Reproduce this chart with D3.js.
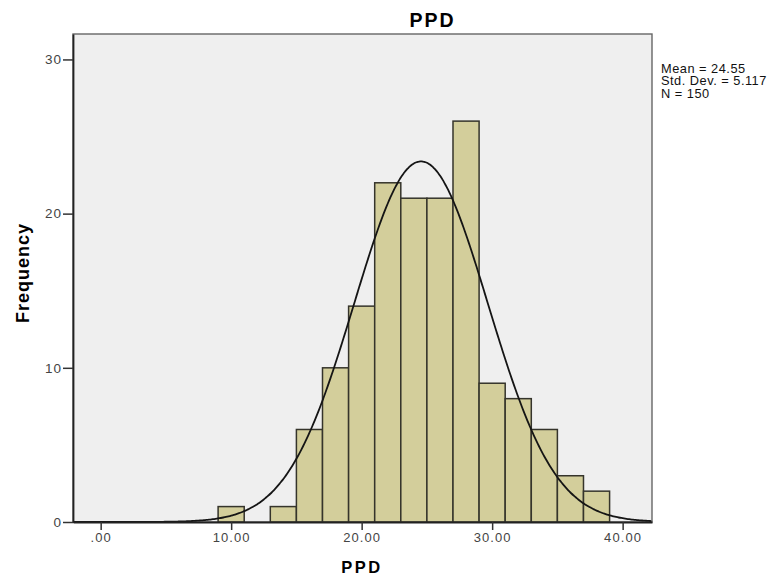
<!DOCTYPE html>
<html>
<head>
<meta charset="utf-8">
<script src="https://cdn.jsdelivr.net/npm/d3@7"></script>
<style>
  body { margin: 0; background: #fff; }
  text { font-family: Arial, "Liberation Sans", sans-serif; }
</style>
</head>
<body>
<svg width="779" height="577"></svg>
<script>
// histogram bins (lower edge, width 2) and counts
var binStart = [9, 11, 13, 15, 17, 19, 21, 23, 25, 27, 29, 31, 33, 35, 37];
var counts   = [1, 0, 1, 6, 10, 14, 22, 21, 21, 26, 9, 8, 6, 3, 2];
var binWidth = 2;
var xTicks = [0, 10, 20, 30, 40];
var yTicks = [0, 10, 20, 30];
var stats = ["Mean = 24.55", "Std. Dev. = 5.117", "N = 150"];
var mean = 24.55, sd = 5.117, n = 150;

var svg = d3.select("svg");
// plot frame edges (window.top is reserved, so use own names)
var pLeft = 73, pRight = 652, pTop = 34, pBottom = 522;

var x = d3.scaleLinear().domain([-2.12, 42.25]).range([pLeft, pRight]);
var y = d3.scaleLinear().domain([0, 31.65]).range([pBottom, pTop]);

// plot background
svg.append("rect")
    .attr("x", pLeft).attr("y", pTop)
    .attr("width", pRight - pLeft).attr("height", pBottom - pTop)
    .attr("fill", "#efefef")
    .attr("stroke", "#666")
    .attr("stroke-width", 1.4);

// bars
svg.append("g")
  .selectAll("rect")
  .data(binStart.map(function(d, i) { return {x0: d, c: counts[i]}; }).filter(function(d) { return d.c > 0; }))
  .enter().append("rect")
    .attr("x", function(d) { return x(d.x0); })
    .attr("y", function(d) { return y(d.c); })
    .attr("width", function(d) { return x(d.x0 + binWidth) - x(d.x0); })
    .attr("height", function(d) { return y(0) - y(d.c); })
    .attr("fill", "#d3ce9b")
    .attr("stroke", "#35342b")
    .attr("stroke-width", 1.5);

// normal curve scaled to counts
var xs = d3.range(-2.1, 42.26, 0.1);
var norm = function(v) {
  return n * binWidth / (sd * Math.sqrt(2 * Math.PI)) * Math.exp(-0.5 * Math.pow((v - mean) / sd, 2));
};
svg.append("path")
    .datum(xs)
    .attr("fill", "none")
    .attr("stroke", "#151515")
    .attr("stroke-width", 1.8)
    .attr("d", d3.line().x(function(d) { return x(d); }).y(function(d) { return y(norm(d)); }).curve(d3.curveBasis));

// axes
var xAxis = svg.append("g")
    .attr("transform", "translate(0," + pBottom + ")")
    .call(d3.axisBottom(x).tickValues(xTicks).tickSize(8).tickSizeOuter(0)
      .tickFormat(function(d) { return d === 0 ? ".00" : d3.format(".2f")(d); }));
xAxis.select(".domain").attr("stroke", "#222").attr("stroke-width", 1.8);
xAxis.selectAll(".tick line").attr("stroke", "#333").attr("stroke-width", 1.5);
xAxis.selectAll(".tick text").attr("fill", "#444").attr("font-size", 13)
    .attr("letter-spacing", 1.1).attr("y", 11).attr("dy", "0.71em");

var yAxis = svg.append("g")
    .attr("transform", "translate(" + pLeft + ",0)")
    .call(d3.axisLeft(y).tickValues(yTicks).tickSize(10).tickSizeOuter(0));
yAxis.select(".domain").attr("stroke", "#222").attr("stroke-width", 1.8);
yAxis.selectAll(".tick line").attr("stroke", "#333").attr("stroke-width", 1.5);
yAxis.selectAll(".tick text").attr("fill", "#444").attr("font-size", 13.5)
    .attr("letter-spacing", 1).attr("x", -11);

// titles
svg.append("text")
    .attr("x", 432.5).attr("y", 26.5)
    .attr("text-anchor", "middle")
    .attr("font-size", 19.5).attr("font-weight", "bold")
    .attr("letter-spacing", 2)
    .text("PPD");

svg.append("text")
    .attr("x", 362).attr("y", 573)
    .attr("text-anchor", "middle")
    .attr("font-size", 16.5).attr("font-weight", "bold")
    .attr("letter-spacing", 2.5)
    .text("PPD");

svg.append("text")
    .attr("transform", "translate(29,273) rotate(-90)")
    .attr("text-anchor", "middle")
    .attr("font-size", 18).attr("font-weight", "bold")
    .attr("letter-spacing", 1)
    .text("Frequency");

// stats box
svg.append("g").selectAll("text")
  .data(stats)
  .enter().append("text")
    .attr("x", 661)
    .attr("y", function(d, i) { return 72.7 + i * 12.7; })
    .attr("font-size", 12.8)
    .attr("letter-spacing", 0.5)
    .attr("fill", "#111")
    .text(function(d) { return d; });
</script>
</body>
</html>
